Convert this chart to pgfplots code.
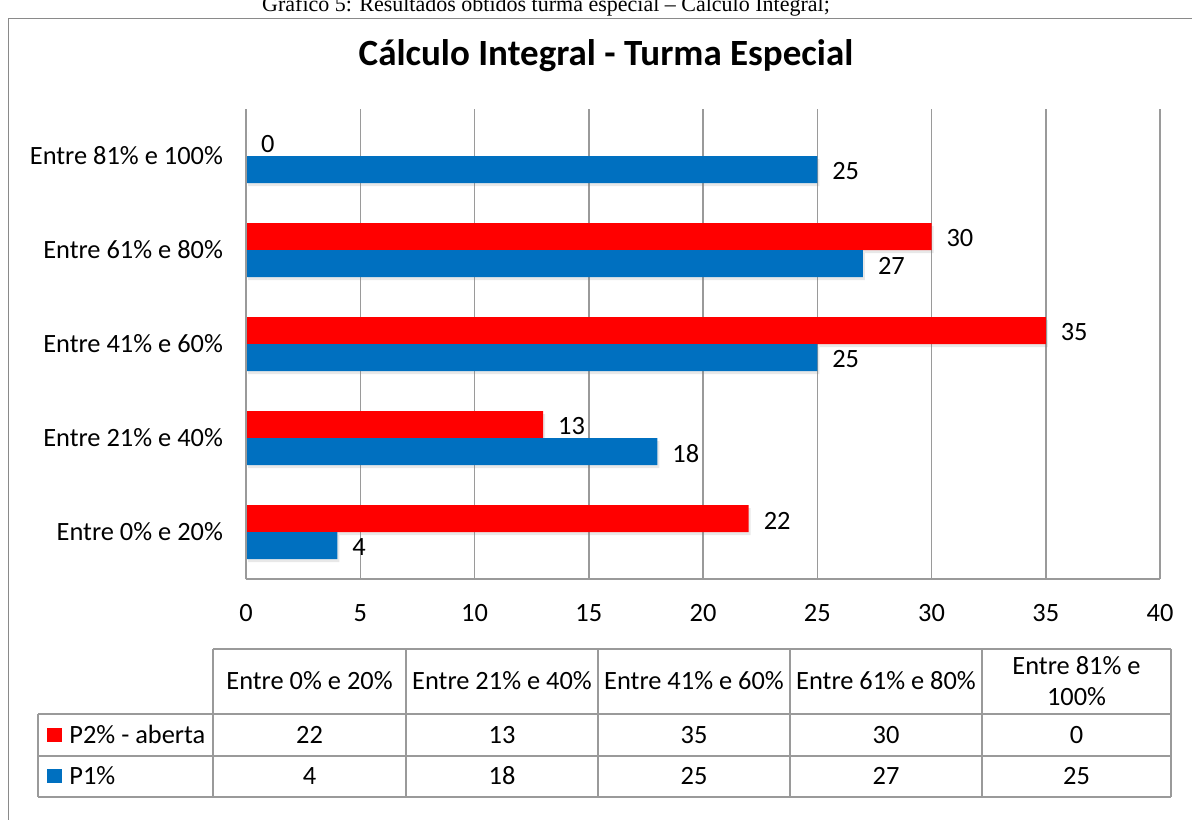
\documentclass[border=0pt]{standalone}
\usepackage{fontspec}
\setmainfont{Carlito}
\newfontfamily\capfont{Liberation Serif}
\usepackage{pgfplots}
\usepackage{pgfplotstable}
\pgfplotsset{compat=1.18}
\usetikzlibrary{shadows}
\definecolor{pred}{HTML}{FF0000}
\definecolor{pblue}{HTML}{0070C0}
\definecolor{gridgray}{HTML}{9A9A9A}
\definecolor{framegray}{HTML}{8A8A8A}

\pgfplotstableread{
idx p2 p1
0 22 4
1 13 18
2 35 25
3 30 27
4 0 25
}\datatable

\newcommand{\lblfont}{\fontsize{13.2}{15.5}\selectfont}

\begin{document}
\begin{tikzpicture}
\useasboundingbox (0,0) rectangle (596pt,409.5pt);
\begin{scope}[shift={(0,409.5pt)}, x=0.5pt, y=-0.5pt]
  % outer frame (cut by the page)
  \draw[framegray, line width=0.8pt] (8.5,830) -- (8.5,18.5) -- (1210,18.5);
  % caption, cut at the top as in the source
  \begin{scope}
    \clip (0,0) rectangle (1192,819);
    \node[font=\capfont\fontsize{11}{13}\selectfont, anchor=base, inner sep=0] at (546,12) {Gráfico 5: Resultados obtidos turma especial – Cálculo Integral;};
  \end{scope}
  % title
  \node[font=\bfseries\fontsize{18.5}{22}\selectfont, anchor=base, inner sep=0] at (606,66) {Cálculo Integral - Turma Especial};
  % data table grid
  \begin{scope}[gridgray, line width=0.6pt]
    \draw (213,649) -- (1171,649);
    \draw (38,714) -- (1171,714);
    \draw (38,756) -- (1171,756);
    \draw (38,797) -- (1171,797);
    \draw (38,714) -- (38,797);
    \foreach \cx in {213,406,598,790,982,1171} {\draw (\cx,649) -- (\cx,797);}
  \end{scope}
  % header
  \begin{scope}[every node/.style={font=\lblfont, anchor=base, inner sep=0}]
    \node at (309.5,689) {Entre 0\% e 20\%};
    \node at (502,689) {Entre 21\% e 40\%};
    \node at (694,689) {Entre 41\% e 60\%};
    \node at (886,689) {Entre 61\% e 80\%};
    \node at (1076.5,674) {Entre 81\% e};
    \node at (1076.5,705) {100\%};
    % legend keys
    \fill[pred] (47,728) rectangle (62,742);
    \fill[pblue] (47,769) rectangle (62,783);
    \node[anchor=base west] at (69,743) {P2\% - aberta};
    \node[anchor=base west] at (69,784) {P1\%};
    % values from the data table
    \foreach \r/\cx in {0/309.5,1/502,2/694,3/886,4/1076.5} {
      \pgfplotstablegetelem{\r}{p2}\of\datatable
      \node at (\cx,743) {\pgfplotsretval};
      \pgfplotstablegetelem{\r}{p1}\of\datatable
      \node at (\cx,784) {\pgfplotsretval};
    }
  \end{scope}
\end{scope}

\begin{axis}[
  at={(123pt,120pt)}, anchor=south west,
  scale only axis, width=457pt, height=235pt,
  xbar, bar width=13.5pt,
  xmin=0, xmax=40, ymin=-0.5, ymax=4.5,
  xtick={0,5,...,40}, ytick={0,1,2,3,4},
  yticklabels={Entre 0\% e 20\%, Entre 21\% e 40\%, Entre 41\% e 60\%, Entre 61\% e 80\%, Entre 81\% e 100\%},
  axis lines*=left,
  axis line style={-, draw=gridgray, line width=0.75pt},
  xmajorgrids, grid style={draw=gridgray, line width=0.75pt},
  major tick length=0pt,
  tick label style={font=\lblfont},
  /pgf/number format/assume math mode=true,
  xticklabel style={yshift=-9pt},
  yticklabel style={xshift=-8pt},
  nodes near coords,
  nodes near coords style={font=\lblfont, anchor=west, xshift=4pt, yshift=-1pt, text=black},
  clip=false,
]
\addplot[fill=pred, draw=none, bar shift=6.75pt, drop shadow={opacity=0.18, shadow xshift=1pt, shadow yshift=-1.5pt}] table[x=p2, y=idx] {\datatable};
\addplot[fill=pblue, draw=none, bar shift=-6.75pt, drop shadow={opacity=0.18, shadow xshift=1pt, shadow yshift=-1.5pt}] table[x=p1, y=idx] {\datatable};
\draw[gridgray, line width=0.75pt] (axis cs:0,-0.5) -- (axis cs:0,4.5);
\end{axis}
\end{tikzpicture}
\end{document}
